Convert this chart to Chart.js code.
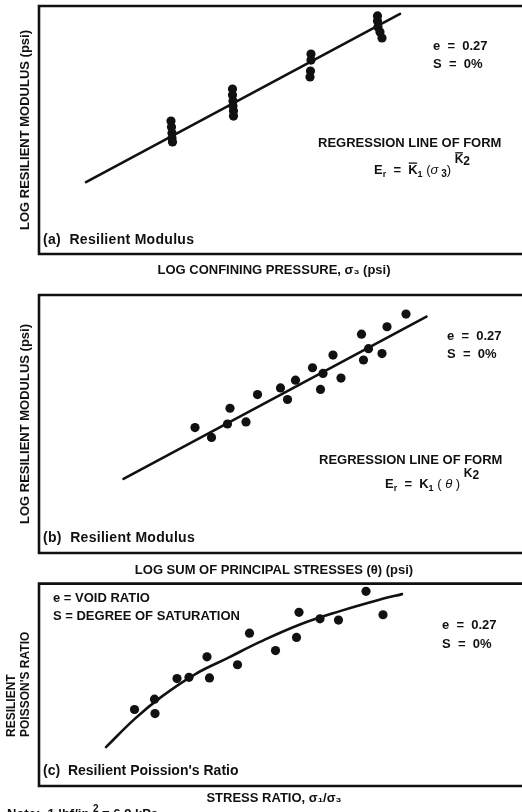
<!DOCTYPE html>
<html><head><meta charset="utf-8">
<script src="https://cdn.jsdelivr.net/npm/chart.js@4"></script>
<style>
html,body{margin:0;padding:0;background:#fff;overflow:hidden;width:522px;height:812px;}
.panel{position:absolute;left:0;width:522px;}
canvas{display:block;}
</style></head><body>
<div class="panel" style="top:0;height:282px"><canvas id="ca" width="522" height="282"></canvas></div>
<div class="panel" style="top:282px;height:297px"><canvas id="cb" width="522" height="297"></canvas></div>
<div class="panel" style="top:579px;height:233px"><canvas id="cc" width="522" height="233"></canvas></div>
<script>
// ---------- DATA (arbitrary units; axes carry no numeric ticks) ----------
// Panel (a): log resilient modulus vs log confining pressure
const aPointsX = [26.4,26.5,26.6,26.6,26.7, 38.7,38.7,38.8,38.8,38.9,38.9, 54.4,54.4,54.3,54.2, 67.7,67.7,67.8,68.2,68.6];
const aPointsY = [53.6,51.2,48.8,46.8,45.2, 66.5,64.1,61.7,59.7,57.7,55.6, 80.6,78.2,73.8,71.4, 96.0,94.0,91.5,89.5,87.1];
const aLineX = [9.4, 72.2];
const aLineY = [29.0, 96.8];

// Panel (b): log resilient modulus vs log sum of principal stresses
const bPointsX = [31.2,34.5,38.2,37.7,41.4,43.7,48.3,49.7,51.3,54.7,56.8,56.3,58.8,60.4,64.5,65.9,64.9,68.6,69.6,73.4];
const bPointsY = [48.6,44.8,56.1,50.0,50.8,61.4,64.0,59.5,67.0,71.8,69.6,63.4,76.7,67.8,84.8,79.2,74.8,77.3,87.7,92.6];
const bLineX = [16.9, 77.5];
const bLineY = [28.7, 91.6];

// Panel (c): resilient Poisson's ratio vs stress ratio
const cPointsX = [19.1,23.1,23.2,27.6,30.0,33.6,34.1,39.7,42.1,47.3,51.5,52.0,56.2,59.9,65.4,68.8];
const cPointsY = [37.8,42.9,35.8,53.1,53.7,63.8,53.4,59.9,75.5,66.9,73.4,85.8,82.6,82.0,96.2,84.6];
const cCurveX = [13.4,19.2,24.6,31.2,37.8,44.2,52.2,60.2,68.2,72.6];
const cCurveY = [19.2,33.3,44.3,55.2,63.3,71.2,79.8,86.4,92.1,94.8];

// Axis titles
const aXTitle = 'LOG CONFINING PRESSURE, σ₃ (psi)';
const aYTitle = 'LOG RESILIENT MODULUS (psi)';
const bXTitle = 'LOG SUM OF PRINCIPAL STRESSES (θ) (psi)';
const bYTitle = 'LOG RESILIENT MODULUS (psi)';
const cXTitle = 'STRESS RATIO, σ₁/σ₃';
const cYTitle = ['RESILIENT', "POISSON'S RATIO"];

// ---------- RENDERING ----------
const FAM = '"Liberation Sans", Arial, sans-serif';
const INK = '#111';
Chart.defaults.font.family = FAM;
Chart.defaults.color = INK;

const pts = (xs, ys) => xs.map((x, i) => ({x, y: ys[i]}));

function drawSegs(ctx, x, y, segs) {
  for (const s of segs) {
    const size = s.size || 13;
    ctx.font = (s.italic ? 'italic ' : '') + (s.weight || 'bold') + ' ' + size + 'px ' + FAM;
    ctx.letterSpacing = (s.ls || 0) + 'px';
    const yy = y + (s.dy || 0);
    ctx.fillText(s.t, x, yy);
    const w = ctx.measureText(s.t).width;
    if (s.bar) ctx.fillRect(x + 0.5, yy - size * 0.72 - 2.2, w - 1, 1.3);
    x += w;
  }
  ctx.letterSpacing = '0px';
}

function notesPlugin(items) {
  return {
    id: 'notes',
    afterDatasetsDraw(chart) {
      const ctx = chart.ctx;
      ctx.save();
      ctx.fillStyle = INK;
      ctx.textAlign = 'left';
      ctx.textBaseline = 'alphabetic';
      for (const n of items) {
        if (n.rotate) {
          ctx.save();
          ctx.translate(n.x, n.y);
          ctx.rotate(-Math.PI / 2);
          ctx.textBaseline = 'middle';
          drawSegs(ctx, 0, 0, n.segs);
          ctx.restore();
        } else {
          drawSegs(ctx, n.x, n.y, n.segs);
        }
      }
      ctx.restore();
    }
  };
}

const framePlugin = {
  id: 'frame',
  afterDatasetsDraw(chart) {
    const {ctx, chartArea: a, width} = chart;
    ctx.save();
    ctx.strokeStyle = INK;
    ctx.lineWidth = 2.6;
    ctx.beginPath();
    ctx.moveTo(width + 2, a.top);
    ctx.lineTo(a.left, a.top);
    ctx.lineTo(a.left, a.bottom);
    ctx.lineTo(width + 2, a.bottom);
    ctx.stroke();
    ctx.restore();
  }
};

function scaleCfg(xTitle, yTitle, xPad, yPad) {
  const tfont = {size: 13, weight: 'bold', family: FAM};
  return {
    x: {type: 'linear', min: 0, max: 94,
        grid: {display: false, drawTicks: false}, border: {display: false},
        ticks: {display: false},
        title: {display: true, text: xTitle, font: tfont, color: INK, padding: xPad}},
    y: {type: 'linear', min: 0, max: 100,
        grid: {display: false, drawTicks: false}, border: {display: false},
        ticks: {display: false},
        title: {display: !!yTitle, text: yTitle || '', font: tfont, color: INK, padding: yPad}}
  };
}

function datasets(px, py, lx, ly, curved) {
  return [
    {type: 'scatter', data: pts(px, py), pointRadius: 4.6, pointBackgroundColor: INK,
     pointBorderWidth: 0, borderWidth: 0, clip: false},
    {type: 'line', data: pts(lx, ly), borderColor: INK, borderWidth: 2.6, pointRadius: 0,
     fill: false, tension: curved ? 0.4 : 0, borderCapStyle: 'round', clip: false}
  ];
}

function build(id, ds, scales, padding, notes) {
  return new Chart(document.getElementById(id), {
    data: {datasets: ds},
    options: {
      responsive: false, animation: false, events: [],
      layout: {padding},
      scales,
      plugins: {legend: {display: false}, tooltip: {enabled: false}}
    },
    plugins: [framePlugin, notesPlugin(notes)]
  });
}

const eqRow = (x, y, t) => ({x, y, segs: [{t}]});

// Panel (a)
build('ca', datasets(aPointsX, aPointsY, aLineX, aLineY, false),
  scaleCfg(aXTitle, aYTitle, {top: 8.2, bottom: 4.2}, {top: 17.2, bottom: 6.2}),
  {left: 0, right: 13, top: 6, bottom: 0},
  [
    eqRow(433, 49.7, 'e  =  0.27'),
    eqRow(433, 67.7, 'S  =  0%'),
    eqRow(318, 146.7, 'REGRESSION LINE OF FORM'),
    {x: 374, y: 174, segs: [
      {t: 'E'}, {t: 'r', size: 9, dy: 3}, {t: '  =  '}, {t: 'K', bar: true}, {t: '1', size: 9, dy: 3},
      {t: ' (', weight: 'normal'}, {t: 'σ', italic: true, weight: 'normal'}, {t: ' 3', size: 10, dy: 3}, {t: ')', weight: 'normal'},
      {t: ' '}, {t: 'K', size: 12, dy: -11, bar: true}, {t: '2', size: 12, dy: -9}]},
    {x: 43, y: 244, segs: [{t: '(a)  Resilient Modulus', size: 14, ls: 0.3}]}
  ]);

// Panel (b)
build('cb', datasets(bPointsX, bPointsY, bLineX, bLineY, false),
  scaleCfg(bXTitle, bYTitle, {top: 9.2, bottom: 1.2}, {top: 17.2, bottom: 6.2}),
  {left: 0, right: 13, top: 13, bottom: 0},
  [
    eqRow(447, 57.7, 'e  =  0.27'),
    eqRow(447, 75.7, 'S  =  0%'),
    eqRow(319, 181.7, 'REGRESSION LINE OF FORM'),
    {x: 385, y: 205.7, segs: [
      {t: 'E'}, {t: 'r', size: 9, dy: 3}, {t: '  =  '}, {t: 'K'}, {t: '1', size: 9, dy: 3},
      {t: ' ( ', weight: 'normal'}, {t: 'θ', italic: true, weight: 'normal'}, {t: ' )', weight: 'normal'},
      {t: ' '}, {t: 'K', size: 12, dy: -11}, {t: '2', size: 12, dy: -9}]},
    {x: 43, y: 260, segs: [{t: '(b)  Resilient Modulus', size: 14, ls: 0.3}]}
  ]);

// Panel (c)
build('cc', datasets(cPointsX, cPointsY, cCurveX, cCurveY, true),
  scaleCfg(cXTitle, null, {top: 4.2, bottom: 6.2}, {top: 0, bottom: 0}),
  {left: 39, right: 13, top: 4, bottom: 0},
  [
    eqRow(53, 22.7, 'e = VOID RATIO'),
    eqRow(53, 40.7, 'S = DEGREE OF SATURATION'),
    eqRow(442, 49.7, 'e  =  0.27'),
    eqRow(442, 68.7, 'S  =  0%'),
    {x: 43, y: 196, segs: [{t: "(c)  Resilient Poission's Ratio", size: 14}]},
    {x: 12, y: 158, rotate: true, segs: [{t: cYTitle[0], size: 12}]},
    {x: 26, y: 158, rotate: true, segs: [{t: cYTitle[1], size: 12}]},
    {x: 7, y: 238.5, segs: [{t: 'Note:  1 lbf/in ', size: 13}, {t: '2', size: 10, dy: -6}, {t: ' = 6.9 kPa', size: 13}]}
  ]);
</script>
</body></html>
